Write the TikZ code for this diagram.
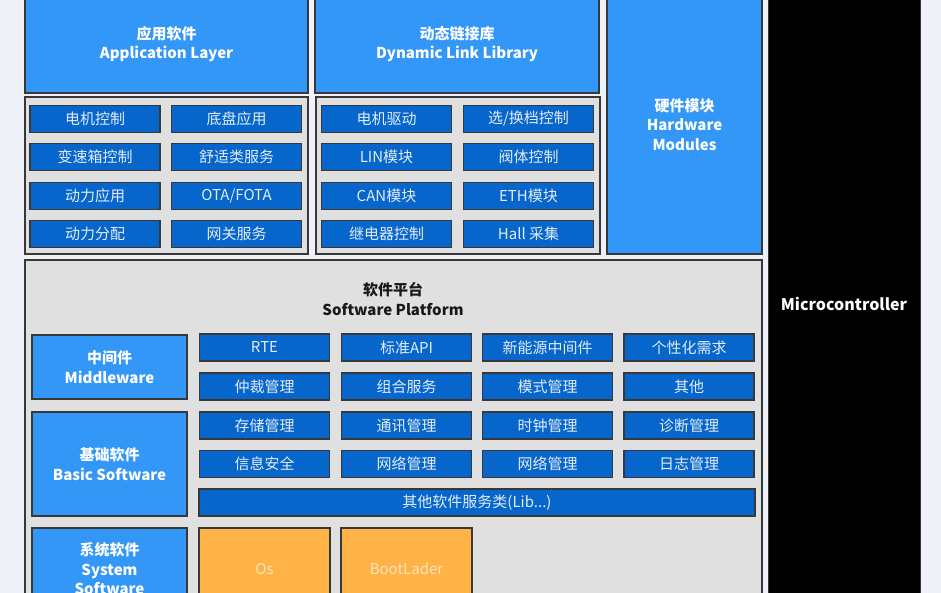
\documentclass[tikz,border=0pt]{standalone}
\usepackage{fontspec}
\setmainfont{Noto Sans CJK SC}
\definecolor{bgc}{HTML}{EEF1F8}
\definecolor{hblue}{HTML}{3397F7}
\definecolor{dblue}{HTML}{0666CC}
\definecolor{gfill}{HTML}{E0E0E0}
\definecolor{bord}{HTML}{383838}
\definecolor{orng}{HTML}{FFB245}
\definecolor{otxt}{HTML}{FFE6BE}
\definecolor{stxt}{HTML}{E4ECF6}
\tikzset{
  bigbox/.style={draw=bord, line width=1.4pt, fill=hblue, text=white, align=center,
    font=\bfseries\fontsize{15}{19.5}\selectfont, inner sep=0pt},
  cont/.style={draw=bord, line width=1.6pt, fill=gfill, inner sep=0pt},
  sbox/.style={draw=bord, line width=1.5pt, fill=dblue, text=stxt, inner sep=0pt,
    minimum width=130pt, minimum height=27pt, font=\fontsize{15}{17}\selectfont},
  obox/.style={draw=bord, line width=1.4pt, fill=orng, text=otxt, inner sep=0pt,
    minimum width=131pt, font=\fontsize{15}{17}\selectfont},
  micro/.style={fill=black, draw=bord, line width=1pt, text=white, inner sep=0pt,
    font=\bfseries\fontsize{16}{18}\selectfont},
}
\begin{document}
\begin{tikzpicture}[x=1pt,y=-1pt]
\useasboundingbox (0,0) rectangle (941,593);
\clip (0,0) rectangle (941,593);
\fill[bgc] (0,0) rectangle (941,593);

% top blue headers
\node[bigbox, minimum width=283pt, minimum height=98pt] (app) at (166.5,44) {应用软件\\Application Layer};
\node[bigbox, minimum width=284pt, minimum height=98pt] (dll) at (457,44) {动态链接库\\Dynamic Link Library};
\node[bigbox, minimum width=155pt, minimum height=259pt] (hw) at (684.5,124.5) {硬件模块\\Hardware\\Modules};
\node[micro, minimum width=152pt, minimum height=618pt] (mc) at (844,304) {Microcontroller};

% application containers
\node[cont, minimum width=283pt, minimum height=157pt] (appc) at (166.5,175.5) {};
\node[cont, minimum width=284pt, minimum height=157pt] (dllc) at (458,175.5) {};

\node[sbox] (a11) at (95,119) {电机控制};
\node[sbox] (a12) at (236.5,119) {底盘应用};
\node[sbox] (a21) at (95,157) {变速箱控制};
\node[sbox] (a22) at (236.5,157) {舒适类服务};
\node[sbox] (a31) at (95,196) {动力应用};
\node[sbox] (a32) at (236.5,196) {OTA/FOTA};
\node[sbox] (a41) at (95,234) {动力分配};
\node[sbox] (a42) at (236.5,234) {网关服务};

\node[sbox] (d11) at (386.5,119) {电机驱动};
\node[sbox] (d12) at (528.5,119) {选/换档控制};
\node[sbox] (d21) at (386.5,157) {LIN模块};
\node[sbox] (d22) at (528.5,157) {阀体控制};
\node[sbox] (d31) at (386.5,196) {CAN模块};
\node[sbox] (d32) at (528.5,196) {ETH模块};
\node[sbox] (d41) at (386.5,234) {继电器控制};
\node[sbox] (d42) at (528.5,234) {Hall 采集};

% software platform
\node[cont, minimum width=737pt, minimum height=360pt] (sp) at (393.5,440) {};
\node[align=center, text=black!90, font=\bfseries\fontsize{15}{19.5}\selectfont] (spt) at (393,299) {软件平台\\Software Platform};

\node[bigbox, minimum width=155pt, minimum height=64pt] (mw) at (109.5,367) {中间件\\Middleware};
\node[bigbox, minimum width=155pt, minimum height=104pt] (bs) at (109.5,464) {基础软件\\Basic Software};
\node[bigbox, minimum width=155pt, minimum height=82pt] (ss) at (109.5,569) {系统软件\\System\\Software};

\node[sbox] (s11) at (264.5,347.5) {RTE};
\node[sbox] (s12) at (406.5,347.5) {标准API};
\node[sbox] (s13) at (547.5,347.5) {新能源中间件};
\node[sbox] (s14) at (689,347.5) {个性化需求};
\node[sbox] (s21) at (264.5,386.5) {仲裁管理};
\node[sbox] (s22) at (406.5,386.5) {组合服务};
\node[sbox] (s23) at (547.5,386.5) {模式管理};
\node[sbox] (s24) at (689,386.5) {其他};
\node[sbox] (s31) at (264.5,425.5) {存储管理};
\node[sbox] (s32) at (406.5,425.5) {通讯管理};
\node[sbox] (s33) at (547.5,425.5) {时钟管理};
\node[sbox] (s34) at (689,425.5) {诊断管理};
\node[sbox] (s41) at (264.5,464) {信息安全};
\node[sbox] (s42) at (406.5,464) {网络管理};
\node[sbox] (s43) at (547.5,464) {网络管理};
\node[sbox] (s44) at (689,464) {日志管理};
\node[sbox, minimum width=556pt] (s5) at (477,502.5) {其他软件服务类(Lib...)};

\node[obox, minimum height=82pt] (os) at (264.5,569) {Os};
\node[obox, minimum height=82pt] (bl) at (406.5,569) {BootLader};
\end{tikzpicture}
\end{document}
